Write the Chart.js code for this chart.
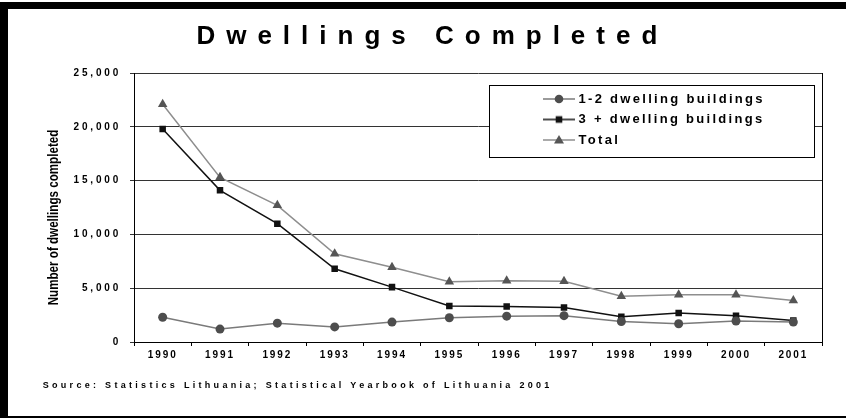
<!DOCTYPE html>
<html>
<head>
<meta charset="utf-8">
<title>Dwellings Completed</title>
<script src="https://cdn.jsdelivr.net/npm/chart.js@4.4.1/dist/chart.umd.min.js"></script>
<style>
  html, body { margin: 0; padding: 0; background: #fff; }
  #wrap { position: relative; width: 846px; height: 418px; overflow: hidden; }
  #frame {
    position: absolute; left: 0; top: 2px; width: 846px; height: 416px;
    box-sizing: border-box;
    border-left: 8px solid #000; border-top: 7px solid #000; border-bottom: 2px solid #000;
  }
  #chart { position: absolute; left: 0; top: 0; }
</style>
</head>
<body>
<div id="wrap">
  <div id="frame"></div>
  <canvas id="chart" width="846" height="418"></canvas>
</div>
<script>
// Completed dwellings per year, by building size
const years = ['1990', '1991', '1992', '1993', '1994', '1995', '1996', '1997', '1998', '1999', '2000', '2001'];
const smallBuildings = [2300, 1200, 1750, 1400, 1850, 2250, 2400, 2450, 1900, 1700, 1950, 1850];
const largeBuildings = [19800, 14100, 11000, 6800, 5100, 3350, 3300, 3200, 2350, 2700, 2450, 2000];
const totals = [22100, 15300, 12700, 8200, 6950, 5600, 5700, 5650, 4250, 4400, 4400, 3850];
const yTickValues = [0, 5000, 10000, 15000, 20000, 25000];

const seriesNames = ['1-2 dwelling buildings', '3 + dwelling buildings', 'Total'];
const titleText = 'Dwellings Completed';
const yAxisTitle = 'Number of dwellings completed';
const sourceText = 'Source: Statistics Lithuania; Statistical Yearbook of Lithuania 2001';

const FONT = "'Liberation Sans', Arial, sans-serif";

// Series styles: [line colour, marker colour, marker shape, marker radius]
const styles = [
  ['#7a7a7a', '#4d4d4d', 'circle', 4.5],
  ['#111111', '#111111', 'rect', 4.6],
  ['#8e8e8e', '#555555', 'triangle', 5.5]
];

// Small line-with-marker swatch used by the legend
function legendIcon(lineColor, markColor, shape) {
  const cv = document.createElement('canvas');
  cv.width = 32; cv.height = 14;
  const g = cv.getContext('2d');
  g.strokeStyle = lineColor; g.lineWidth = 1.5;
  g.beginPath(); g.moveTo(0, 7); g.lineTo(32, 7); g.stroke();
  g.fillStyle = markColor;
  g.beginPath();
  if (shape === 'circle') {
    g.arc(16, 7, 4.3, 0, Math.PI * 2);
  } else if (shape === 'rect') {
    g.rect(12.7, 3.7, 6.6, 6.6);
  } else {
    g.moveTo(16, 2); g.lineTo(21, 10.5); g.lineTo(11, 10.5); g.closePath();
  }
  g.fill();
  return cv;
}
const icons = styles.map(s => legendIcon(s[0], s[1], s[2]));

// Wrap a draw method so its text is drawn with extra tracking (and an optional transform)
function tracked(obj, method, spacing, transform) {
  if (!obj || obj['__tracked_' + method]) return;
  const orig = obj[method];
  obj[method] = function () {
    const c = this.ctx;
    c.save();
    if ('letterSpacing' in c) c.letterSpacing = spacing;
    if (transform) transform.call(this, c);
    const r = orig.apply(this, arguments);
    c.restore();
    return r;
  };
  obj['__tracked_' + method] = true;
}

const layoutTweaks = {
  id: 'layoutTweaks',
  afterLayout(chart) {
    const a = chart.chartArea;
    const lg = chart.legend;
    if (lg) {
      // boxed legend in the upper right of the plot
      const box = { x: a.right - 333, y: a.top + 12, w: 325, h: 72 };
      lg.left = box.x + 49.5; lg.top = box.y;
      lg.right = lg.left + 320; lg.bottom = lg.top + 200;
      lg.__box = box;
      if (!lg.__wrapped) {
        const orig = lg.draw;
        lg.draw = function () {
          const c = this.ctx, b = this.__box;
          c.save();
          c.fillStyle = '#fff';
          c.fillRect(b.x, b.y, b.w, b.h);
          c.strokeStyle = '#000'; c.lineWidth = 1;
          c.strokeRect(Math.round(b.x) + 0.5, Math.round(b.y) + 0.5, b.w, b.h);
          if ('letterSpacing' in c) c.letterSpacing = '2.3px';
          c.fillStyle = '#000';
          orig.apply(this, arguments);
          c.restore();
        };
        lg.__wrapped = true;
      }
    }
    tracked(chart.scales.x, 'drawLabels', '1.9px');
    tracked(chart.scales.y, 'drawLabels', '2.8px');
    // axis title: slightly lower than centre and condensed along its length
    tracked(chart.scales.y, 'drawTitle', '0px', function (c) {
      const ca = this.chart.chartArea;
      const cy = (ca.top + ca.bottom) / 2;
      c.translate(1, cy + 10);
      c.scale(1, 0.83);
      c.translate(0, -cy);
    });
    chart.boxes.forEach(b => {
      if (b === chart.titleBlock) tracked(b, 'draw', '11px');
      else if (b.options && b.options.text === sourceText) tracked(b, 'draw', '3.3px');
    });
  }
};

const datasets = [smallBuildings, largeBuildings, totals].map((values, i) => ({
  label: seriesNames[i],
  data: values,
  borderColor: styles[i][0],
  backgroundColor: styles[i][1],
  pointBackgroundColor: styles[i][1],
  pointBorderColor: styles[i][1],
  pointBorderWidth: 0,
  pointStyle: styles[i][2],
  pointRadius: styles[i][3],
  borderWidth: 1.5,
  tension: 0,
  fill: false
}));

new Chart(document.getElementById('chart'), {
  type: 'line',
  data: { labels: years, datasets },
  plugins: [layoutTweaks],
  options: {
    responsive: false,
    animation: false,
    devicePixelRatio: 1,
    layout: { padding: { left: 42.7, right: 24, top: 0, bottom: 0 } },
    plugins: {
      tooltip: { enabled: false },
      title: {
        display: true,
        text: titleText,
        color: '#000',
        font: { family: FONT, size: 26, weight: 'bold' },
        padding: { top: 21.4, bottom: 20.4 }
      },
      subtitle: {
        display: true,
        text: sourceText,
        position: 'bottom',
        align: 'start',
        color: '#000',
        font: { family: FONT, size: 9, weight: 'bold' },
        padding: { top: 0, bottom: 26.6 }
      },
      legend: {
        display: true,
        position: 'chartArea',
        align: 'start',
        labels: {
          color: '#000',
          font: { family: FONT, size: 13, weight: 'bold' },
          usePointStyle: true,
          pointStyleWidth: 26,
          padding: 7.5,
          generateLabels: (chart) => chart.data.datasets.map((ds, i) => ({
            text: ds.label,
            pointStyle: icons[i],
            fillStyle: styles[i][1],
            strokeStyle: styles[i][0],
            fontColor: '#000',
            lineWidth: 0,
            hidden: false,
            datasetIndex: i
          }))
        }
      }
    },
    scales: {
      x: {
        offset: true,
        grid: { offset: true, drawOnChartArea: false, drawTicks: true, tickLength: 4, color: '#000' },
        border: { display: true, color: '#000', width: 1 },
        ticks: {
          color: '#000', autoSkip: false, maxRotation: 0, padding: 3,
          font: { family: FONT, size: 10, weight: 'bold' }
        },
        afterFit: (s) => { s.height = 38.6; }
      },
      y: {
        min: yTickValues[0],
        max: yTickValues[yTickValues.length - 1],
        grid: { color: '#333', drawTicks: true, tickLength: 4, lineWidth: 1 },
        border: { display: true, color: '#000', width: 1 },
        ticks: {
          stepSize: yTickValues[1] - yTickValues[0],
          color: '#000', padding: 9,
          font: { family: FONT, size: 10, weight: 'bold' },
          callback: (v) => Number(v).toLocaleString('en-US')
        },
        title: {
          display: true,
          text: yAxisTitle,
          color: '#000',
          font: { family: FONT, size: 14, weight: 'bold' },
          padding: { top: 2, bottom: 0 }
        },
        afterFit: (s) => { s.width = 91.3; }
      },
      y2: {
        position: 'right',
        display: true,
        grid: { display: false, drawTicks: false },
        ticks: { display: false },
        border: { display: true, color: '#000', width: 1 },
        afterFit: (s) => { s.width = 0; }
      }
    }
  }
});
</script>
</body>
</html>
